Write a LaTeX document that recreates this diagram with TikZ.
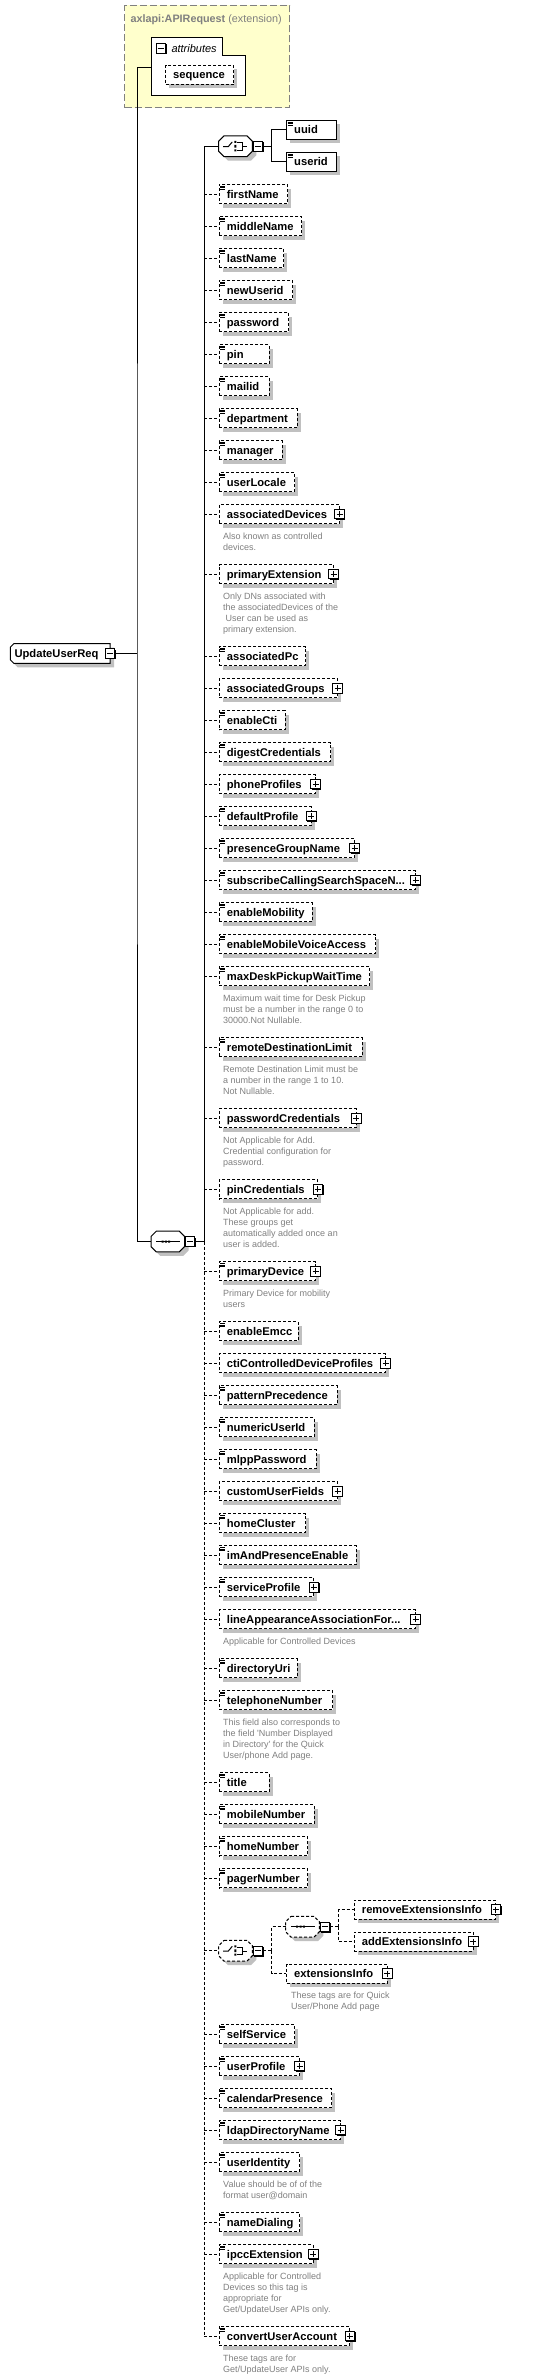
\documentclass[tikz,border=0pt]{standalone}
\usepackage{fontspec}
\setmainfont{Liberation Sans}
\definecolor{shad}{RGB}{192,192,192}
\definecolor{dgray}{RGB}{128,128,128}
\definecolor{extfill}{RGB}{255,255,204}
\tikzset{
  ebox/.style={draw, fill=white, line width=1, minimum height=19, inner sep=0},
  eopt/.style={ebox, dash pattern=on 3pt off 2pt},
  ereq/.style={ebox},
  etext/.style={anchor=base west, inner sep=0, font=\fontsize{11.2}{13}\selectfont\bfseries},
  dtext/.style={anchor=base west, inner sep=0, font=\fontsize{9}{11}\selectfont, text=dgray},
  pmbox/.style={draw, fill=white, minimum size=9.5, inner sep=0, line width=0.9},
  conn/.style={line width=1},
  dconn/.style={line width=1, dash pattern=on 3pt off 2pt}
}
\def\octp{(-11.5,-10.35) -- (11.5,-10.35) -- (16.8,-5.05) -- (16.8,5.05) -- (11.5,10.35) -- (-11.5,10.35) -- (-16.8,5.05) -- (-16.8,-5.05) -- cycle}
% element box: name, left, cy, right, text, style
\newcommand\el[6]{%
  \fill[shad] ({#2+4},{#3-5.5}) rectangle ({#4+4},{#3+13.5});
  \node[#6, minimum width={#4-#2}, anchor=west] (#1) at (#2,#3) {};
  \node[etext] (#1-t) at ({#2+8},{#3+4}) {#5};}
% simple content icon
\newcommand\ic[2]{\draw[line width=0.7] ({#1+1.5},{#2-7.8}) -- +(5,0) ({#1+1.5},{#2-6.2}) -- +(5,0) ({#1+1.5},{#2-4.6}) -- +(5,0);}
% plus / minus box: name, cx, cy, 1=plus
\newcommand\pmb[4]{%
  \node[pmbox] (#1) at (#2,#3) {};
  \draw[line width=1.2] ({#2-4},{#3+5.2}) -- ({#2+5.2},{#3+5.2}) -- ({#2+5.2},{#3-4});
  \draw[line width=0.9] ({#2-3},#3) -- ({#2+3},#3);
  \ifnum#4=1 \draw[line width=0.9] (#2,{#3-3}) -- (#2,{#3+3});\fi}
% main child: name, cy, right, text, flags (1 icon, 2 plus, 3 both)
\newcommand\mc[5]{%
  \el{#1}{218.7}{#2}{#3}{#4}{eopt}%
  \ifodd#5 \ic{218.7}{#2}\fi
  \ifnum#5>1 \pmb{#1-p}{#3+0.5}{#2}{1}\fi}
% description: name, x, cy, lines
\newcommand\dsc[4]{\foreach \l [count=\i] in {#4} {\node[dtext] (#1-\i) at (#2,{#3+25.3+11*(\i-1)}) {\l};}}
% compositor: name, cx, cy, border style, type s/c
\newcommand\compo[5]{%
\begin{scope}[shift={(#2,#3)}]
 \fill[shad,shift={(4,4)}] \octp;
 \draw[line width=1,fill=white,#4] \octp;
 \node[inner sep=0,minimum width=33.6,minimum height=20.7] (#1) at (0,0) {};
 \if s#5
  \draw[line width=1] (-11.5,0) -- (12,0);
  \fill (-6.3,-1) rectangle (-4.3,1) (-3,-1) rectangle (-1,1) (0.3,-1) rectangle (2.3,1);
 \else
  \draw[line width=1] (-12.5,0.3) -- (-7.2,0.3) -- (-3.2,-4.4);
  \fill (-1.2,-5.3) rectangle (0.8,-3.3) (-1.2,-1.3) rectangle (0.8,1.3) (-1.2,3) rectangle (0.8,5);
  \draw[line width=1] (1.8,-3.6) -- (6.8,-3.6) -- (6.8,3.7) -- (1.8,3.7) (6.8,0.3) -- (11.5,0.3);
 \fi
\end{scope}}
\begin{document}
\begin{tikzpicture}[x=1pt,y=-1pt]
\fill[white] (0,0) rectangle (536,2379);
\useasboundingbox (0,0) rectangle (536,2379);

% extension box
\node[draw=dgray, fill=extfill, line width=1, dash pattern=on 7pt off 3pt, inner sep=0, minimum width=164.7, minimum height=102.3, anchor=north west] (ext) at (124.3,5) {};
\node[anchor=base west, inner sep=0, font=\fontsize{10.8}{13}\selectfont, text=dgray] (ext-t) at (130.3,23) {\textbf{axlapi:APIRequest} (extension)};
\node[inner sep=0, minimum width=93.7, minimum height=57.3, anchor=north west] (attrs) at (151.3,38) {};
\draw[line width=1, fill=white] (151.3,38) -- (222.7,38) -- (222.7,56) -- (245,56) -- (245,95.3) -- (151.3,95.3) -- cycle;
\pmb{attrm}{160.7}{48.3}{0}
\node[anchor=base west, inner sep=0, font=\fontsize{11}{13}\selectfont\itshape] (attrs-t) at (171.3,52.3) {attributes};
\el{attrseq}{165}{74.8}{233.3}{sequence}{eopt}
\coordinate (attrin) at (151.3,67.7);

% root
\fill[shad] (17.8,647.7) -- (114,647.7) -- (114,667.3) -- (17.8,667.3) -- (14.3,663.8) -- (14.3,651.2) -- cycle;
\node[inner sep=0, minimum width=99.7, minimum height=19.6] (root) at (60.15,653.5) {};
\draw[line width=1, fill=white] (13.8,643.7) -- (110,643.7) -- (110,663.3) -- (13.8,663.3) -- (10.3,659.8) -- (10.3,647.2) -- cycle;
\node[etext] (root-t) at (14.3,657.7) {UpdateUserReq};
\pmb{rm}{109.8}{653.5}{0}

% compositors
\compo{c1}{235.5}{146.3}{}{c}
\pmb{c1m}{257.8}{146.3}{0}
\compo{s1}{167.8}{1241.5}{}{s}
\pmb{s1m}{190.1}{1241.5}{0}
\compo{c2}{235.5}{1950.7}{dash pattern=on 3pt off 2pt}{c}
\pmb{c2m}{257.8}{1950.7}{0}
\compo{s2}{302.5}{1926.7}{dash pattern=on 3pt off 2pt}{s}
\pmb{s2m}{324.8}{1926.7}{0}

% choice children
\el{uuid}{286}{129.8}{335.7}{uuid}{ereq}\ic{286}{129.8}
\el{userid}{286}{161.8}{335.7}{userid}{ereq}\ic{286}{161.8}

% main children
\mc{firstName}{194}{287.3}{firstName}{1}
\mc{middleName}{226}{301.3}{middleName}{1}
\mc{lastName}{258}{283.3}{lastName}{1}
\mc{newUserid}{290}{292.3}{newUserid}{1}
\mc{password}{322}{288.3}{password}{1}
\mc{pin}{354}{268.7}{pin}{1}
\mc{mailid}{386}{268.7}{mailid}{1}
\mc{department}{418}{296.7}{department}{1}
\mc{manager}{450}{281.7}{manager}{1}
\mc{userLocale}{482}{294}{userLocale}{1}
\mc{associatedDevices}{514}{339}{associatedDevices}{2}
\mc{primaryExtension}{574}{333}{primaryExtension}{2}
\mc{associatedPc}{656}{305.3}{associatedPc}{1}
\mc{associatedGroups}{688.3}{337}{associatedGroups}{2}
\mc{enableCti}{720}{284.7}{enableCti}{1}
\mc{digestCredentials}{752}{330.3}{digestCredentials}{1}
\mc{phoneProfiles}{784}{315}{phoneProfiles}{2}
\mc{defaultProfile}{816}{310.7}{defaultProfile}{3}
\mc{presenceGroupName}{848}{354}{presenceGroupName}{3}
\mc{subscribeCSS}{880}{415}{subscribeCallingSearchSpaceN...}{3}
\mc{enableMobility}{912}{311.7}{enableMobility}{1}
\mc{enableMobileVoiceAccess}{944}{375}{enableMobileVoiceAccess}{1}
\mc{maxDeskPickupWaitTime}{976}{369.3}{maxDeskPickupWaitTime}{1}
\mc{remoteDestinationLimit}{1047.3}{361.7}{remoteDestinationLimit}{1}
\mc{passwordCredentials}{1118.3}{355.7}{passwordCredentials}{2}
\mc{pinCredentials}{1189.3}{317.3}{pinCredentials}{2}
\mc{primaryDevice}{1271.3}{315}{primaryDevice}{3}
\mc{enableEmcc}{1331.3}{297.7}{enableEmcc}{1}
\mc{ctiControlledDeviceProfiles}{1363.3}{385}{ctiControlledDeviceProfiles}{2}
\mc{patternPrecedence}{1395.3}{336.7}{patternPrecedence}{1}
\mc{numericUserId}{1427.3}{313.7}{numericUserId}{1}
\mc{mlppPassword}{1459.3}{315.7}{mlppPassword}{1}
\mc{customUserFields}{1491.3}{337}{customUserFields}{2}
\mc{homeCluster}{1523.3}{305}{homeCluster}{1}
\mc{imAndPresenceEnable}{1555.3}{355.7}{imAndPresenceEnable}{1}
\mc{serviceProfile}{1587.3}{313.3}{serviceProfile}{3}
\mc{lineAppearance}{1619.3}{415}{lineAppearanceAssociationFor...}{2}
\mc{directoryUri}{1668.3}{296.7}{directoryUri}{1}
\mc{telephoneNumber}{1700}{332.3}{telephoneNumber}{1}
\mc{title}{1782}{268.7}{title}{1}
\mc{mobileNumber}{1814.3}{313.7}{mobileNumber}{1}
\mc{homeNumber}{1846.3}{307.3}{homeNumber}{1}
\mc{pagerNumber}{1878.3}{307.3}{pagerNumber}{1}
\mc{selfService}{2034}{294}{selfService}{1}
\mc{userProfile}{2066}{299}{userProfile}{3}
\mc{calendarPresence}{2098}{331.3}{calendarPresence}{1}
\mc{ldapDirectoryName}{2130}{340}{ldapDirectoryName}{3}
\mc{userIdentity}{2162}{299}{userIdentity}{1}
\mc{nameDialing}{2222}{299}{nameDialing}{1}
\mc{ipccExtension}{2254}{312.7}{ipccExtension}{3}
\mc{convertUserAccount}{2336}{349.3}{convertUserAccount}{3}

% sub-children of second choice
\el{removeExt}{353.7}{1909.5}{495.3}{removeExtensionsInfo}{eopt}\pmb{removeExt-p}{495.8}{1909.5}{1}
\el{addExt}{353.7}{1941.5}{472.7}{addExtensionsInfo}{eopt}\pmb{addExt-p}{473.2}{1941.5}{1}
\el{extInfo}{286}{1973.5}{386.7}{extensionsInfo}{eopt}\pmb{extInfo-p}{387.2}{1973.5}{1}

% descriptions
\dsc{associatedDevices-d}{223}{514}{{Also known as controlled},{devices.}}
\dsc{primaryExtension-d}{223}{574}{{Only DNs associated with},{the associatedDevices of the},{\ User can be used as},{primary extension.}}
\dsc{maxDesk-d}{223}{976}{{Maximum wait time for Desk Pickup},{must be a number in the range 0 to},{30000.Not Nullable.}}
\dsc{remote-d}{223}{1047.3}{{Remote Destination Limit must be},{a number in the range 1 to 10.},{Not Nullable.}}
\dsc{pwc-d}{223}{1118.3}{{Not Applicable for Add.},{Credential configuration for},{password.}}
\dsc{pinc-d}{223}{1189.3}{{Not Applicable for add.},{These groups get},{automatically added once an},{user is added.}}
\dsc{pd-d}{223}{1271.3}{{Primary Device for mobility},{users}}
\dsc{la-d}{223}{1619.3}{{Applicable for Controlled Devices}}
\dsc{tel-d}{223}{1700}{{This field also corresponds to},{the field \textquotesingle Number Displayed},{in Directory\textquotesingle{} for the Quick},{User/phone Add page.}}
\dsc{ext-d}{291}{1973.5}{{These tags are for Quick},{User/Phone Add page}}
\dsc{uid-d}{223}{2162}{{Value should be of of the},{format user@domain}}
\dsc{ipcc-d}{223}{2254}{{Applicable for Controlled},{Devices so this tag is},{appropriate for},{Get/UpdateUser APIs only.}}
\dsc{cua-d}{223}{2336}{{These tags are for},{Get/UpdateUser APIs only.}}

% connectors
\coordinate (spt) at (204,146.3);
\coordinate (spj) at (204,1241.5);
\coordinate (spb) at (204,2336);
\coordinate (rootj) at (137,653.5);
\coordinate (c1j) at (271.7,146.3);
\coordinate (c2j) at (271.7,1950.7);
\coordinate (s2j) at (338.7,1926.7);

\draw[conn] (rm.east) -- (rootj);
\draw[conn] (attrin) -| (rootj) |- (s1.west);
\draw[conn] (s1m.east) -- (spj) -- (spt) -- (c1.west);
\draw[dconn] (spj) -- (spb);
\draw[conn] (c1m.east) -- (c1j) (c1j) |- (uuid.west) (c1j) |- (userid.west);
\foreach \n in {firstName,middleName,lastName,newUserid,password,pin,mailid,department,manager,userLocale,associatedDevices,primaryExtension,associatedPc,associatedGroups,enableCti,digestCredentials,phoneProfiles,defaultProfile,presenceGroupName,subscribeCSS,enableMobility,enableMobileVoiceAccess,maxDeskPickupWaitTime,remoteDestinationLimit,passwordCredentials,pinCredentials,primaryDevice,enableEmcc,ctiControlledDeviceProfiles,patternPrecedence,numericUserId,mlppPassword,customUserFields,homeCluster,imAndPresenceEnable,serviceProfile,lineAppearance,directoryUri,telephoneNumber,title,mobileNumber,homeNumber,pagerNumber,c2,selfService,userProfile,calendarPresence,ldapDirectoryName,userIdentity,nameDialing,ipccExtension,convertUserAccount}
  \draw[dconn] (spt |- \n.west) -- (\n.west);
\draw[dconn] (c2m.east) -- (c2j) (c2j) |- (s2.west) (c2j) |- (extInfo.west);
\draw[dconn] (s2m.east) -- (s2j) (s2j) |- (removeExt.west) (s2j) |- (addExt.west);
\end{tikzpicture}
\end{document}
